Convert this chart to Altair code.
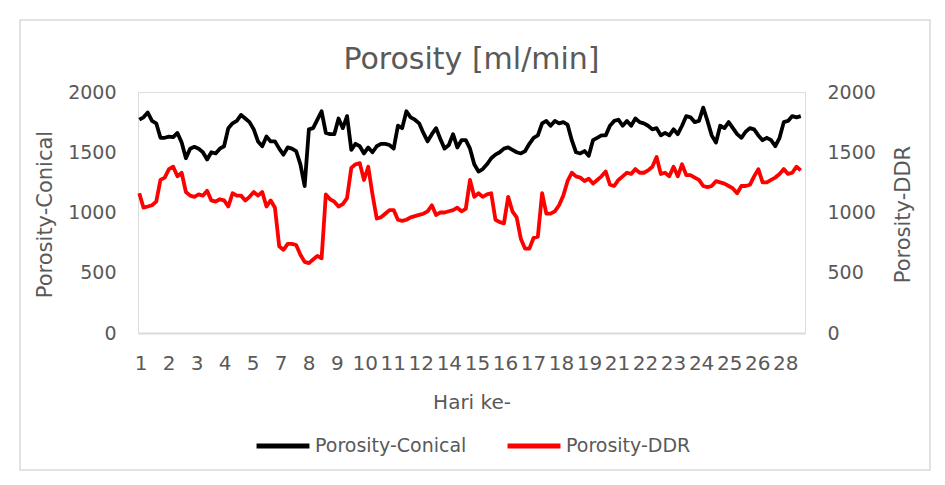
import altair as alt
import pandas as pd

day_labels = ["1", "2", "3", "4", "5", "7", "8", "9", "10", "11", "12", "14",
              "15", "16", "17", "18", "19", "21", "22", "23", "24", "25", "26", "28"]

conical = [1770, 1790, 1830, 1760, 1740, 1620, 1620, 1630, 1625, 1660,
           1580, 1450, 1530, 1545, 1530, 1500, 1440, 1500, 1490, 1530,
           1550, 1700, 1740, 1760, 1810, 1780, 1750, 1690, 1590, 1550,
           1630, 1590, 1590, 1530, 1480, 1540, 1530, 1510, 1400, 1220,
           1690, 1700, 1770, 1840, 1660, 1650, 1650, 1780, 1700, 1800,
           1520, 1570, 1550, 1490, 1540, 1500, 1550, 1570, 1570, 1560,
           1530, 1720, 1700, 1840, 1790, 1770, 1740, 1660, 1590, 1650,
           1700, 1610, 1530, 1560, 1650, 1540, 1600, 1600, 1530, 1400,
           1340, 1360, 1400, 1450, 1480, 1500, 1530, 1540, 1520, 1500,
           1490, 1510, 1570, 1620, 1640, 1740, 1760, 1720, 1760, 1740,
           1750, 1730, 1600, 1500, 1490, 1510, 1470, 1600, 1620, 1640,
           1640, 1720, 1760, 1770, 1720, 1760, 1720, 1780, 1750, 1740,
           1720, 1690, 1700, 1640, 1660, 1640, 1690, 1650, 1720, 1800,
           1790, 1750, 1760, 1870, 1760, 1640, 1580, 1720, 1700, 1750,
           1700, 1650, 1620, 1670, 1700, 1690, 1640, 1600, 1620, 1600,
           1550, 1620, 1750, 1760, 1800, 1790, 1800]

ddr = [1160, 1040, 1050, 1060, 1090, 1270, 1290, 1360, 1380, 1300,
       1330, 1170, 1140, 1130, 1150, 1140, 1180, 1100, 1090, 1110,
       1100, 1050, 1160, 1140, 1140, 1100, 1130, 1170, 1140, 1170,
       1050, 1100, 1040, 720, 690, 740, 740, 730, 650, 590,
       580, 610, 640, 620, 1150, 1110, 1090, 1050, 1070, 1120,
       1370, 1400, 1410, 1270, 1380, 1150, 950, 960, 990, 1020,
       1020, 940, 930, 940, 960, 970, 980, 990, 1010, 1060,
       980, 1000, 1000, 1010, 1020, 1040, 1010, 1030, 1270, 1130,
       1160, 1130, 1150, 1160, 940, 920, 910, 1130, 1010, 960,
       780, 700, 700, 790, 800, 1160, 990, 990, 1010, 1060,
       1140, 1260, 1330, 1300, 1290, 1260, 1280, 1240, 1270, 1300,
       1340, 1230, 1220, 1270, 1300, 1330, 1320, 1360, 1330, 1330,
       1350, 1380, 1460, 1320, 1330, 1300, 1380, 1300, 1400, 1310,
       1310, 1290, 1270, 1220, 1210, 1220, 1260, 1250, 1240, 1220,
       1200, 1160, 1220, 1220, 1230, 1300, 1360, 1250, 1250, 1270,
       1290, 1320, 1360, 1320, 1330, 1380, 1350]

series_names = ["Porosity-Conical", "Porosity-DDR"]

df_c = pd.DataFrame({"idx": list(range(len(conical))), "val": conical, "series": series_names[0]})
df_d = pd.DataFrame({"idx": list(range(len(ddr))), "val": ddr, "series": series_names[1]})

step = 6.61
tick_vals = [round(0.3 + step * k, 3) for k in range(len(day_labels))]
label_expr = "[" + ",".join("'" + s + "'" for s in day_labels) + "][round((datum.value - 0.3) / %s)]" % step

GRAY = "#595959"
FONT = "DejaVu Sans"

color = alt.Color("series:N",
                  scale=alt.Scale(domain=series_names, range=["#000000", "#ff0000"]),
                  legend=alt.Legend(title=None, orient="none", legendX=116, legendY=325,
                                    direction="horizontal", symbolType="stroke",
                                    symbolStrokeWidth=5, symbolSize=2800,
                                    labelFont=FONT, labelFontSize=19, labelColor=GRAY,
                                    labelOffset=3, columnPadding=30, padding=0))

xenc = alt.X("idx:Q", scale=alt.Scale(domain=[-0.3, 157], nice=False, zero=False),
             axis=alt.Axis(values=tick_vals, labelExpr=label_expr, title="Hari ke-",
                           ticks=False, grid=False, domainColor="#d9d9d9", domainWidth=2,
                           labelFont=FONT, labelFontSize=20, labelColor=GRAY,
                           labelPadding=20, labelOverlap=False, labelFlush=False,
                           titleFont=FONT, titleFontSize=20, titleColor=GRAY,
                           titleFontWeight="normal", titlePadding=19))

yscale = alt.Scale(domain=[0, 2000], nice=False)

left = alt.Chart(df_c).mark_line(strokeWidth=3.8, strokeJoin="round").encode(
    x=xenc,
    y=alt.Y("val:Q", scale=yscale,
            axis=alt.Axis(orient="left", values=[0, 500, 1000, 1500, 2000], format="d",
                          title="Porosity-Conical",
                          ticks=False, grid=False, domain=False,
                          labelFont=FONT, labelFontSize=19, labelColor=GRAY, labelPadding=22,
                          titleFont=FONT, titleFontSize=21, titleColor=GRAY,
                          titleFontWeight="normal", titleAngle=270, titleX=-93, titleY=122,
                          titleBaseline="middle", titleAlign="center")),
    color=color,
)

right = alt.Chart(df_d).mark_line(strokeWidth=3.8, strokeJoin="round").encode(
    x=xenc,
    y=alt.Y("val:Q", scale=yscale,
            axis=alt.Axis(orient="right", values=[0, 500, 1000, 1500, 2000], format="d",
                          title="Porosity-DDR",
                          ticks=False, grid=False, domain=False,
                          labelFont=FONT, labelFontSize=19, labelColor=GRAY, labelPadding=22,
                          titleFont=FONT, titleFontSize=21, titleColor=GRAY,
                          titleFontWeight="normal", titleAngle=270, titleX=98, titleY=122,
                          titleBaseline="middle", titleAlign="center")),
    color=color,
)

frame = alt.Chart(pd.DataFrame({"a": [0]})).mark_rect(
    fill=None, stroke="#d9d9d9", strokeWidth=1.5, clip=False
).encode(x=alt.value(-118), x2=alt.value(792), y=alt.value(-72), y2=alt.value(378))

chart = alt.layer(frame, left, right).resolve_scale(y="independent").properties(
    width=667, height=241,
    autosize=alt.AutoSizeParams(type="none"),
    padding={"left": 138, "top": 92, "right": 140, "bottom": 152},
    title=alt.Title("Porosity [ml/min]", font=FONT, fontSize=30, fontWeight="normal",
                    color=GRAY, anchor="middle", offset=-56),
).configure_view(stroke=None).configure(background="white")

chart.save("out.html", embed_options={"renderer": "svg", "actions": False})
